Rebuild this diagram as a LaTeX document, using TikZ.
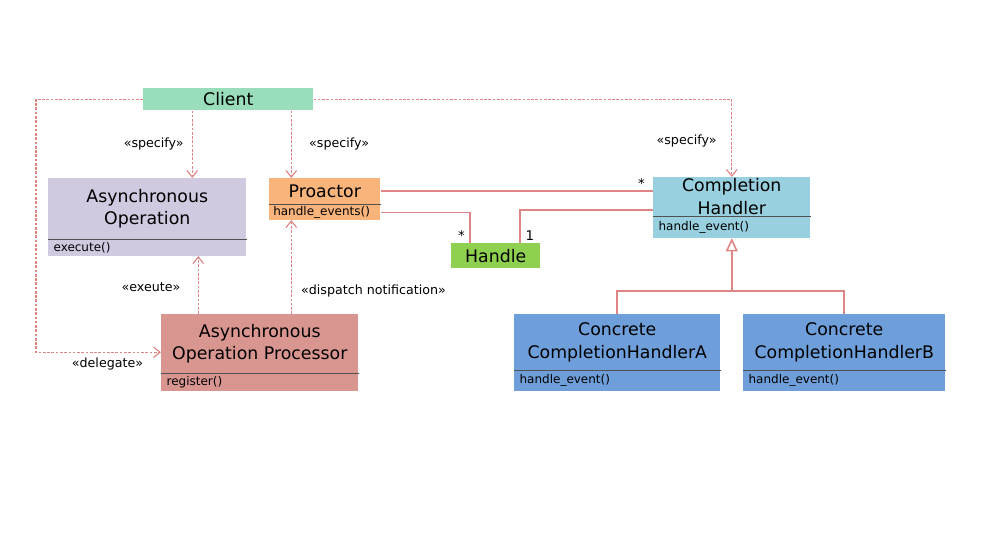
\documentclass[tikz,border=0pt]{standalone}
\usepackage{fontspec}
\setmainfont{DejaVu Sans}
\usetikzlibrary{positioning,arrows.meta}

\definecolor{clientgreen}{HTML}{99DDBB}
\definecolor{aopurple}{HTML}{D1C9DF}
\definecolor{proorange}{HTML}{F9B47C}
\definecolor{handlegreen}{HTML}{8ED151}
\definecolor{chblue}{HTML}{99D0DF}
\definecolor{aopred}{HTML}{D99691}
\definecolor{concblue}{HTML}{6F9FDB}
\definecolor{linered}{HTML}{E08585}
\definecolor{sepgray}{HTML}{505050}

\tikzset{
  cls/.style={fill=#1, inner sep=1pt, align=center,
    font=\fontsize{13}{17}\selectfont},
  meth/.style={fill=#1, inner sep=0pt},
  mlabel/.style={anchor=west, inner xsep=4pt, inner ysep=0pt,
    font=\fontsize{9}{10}\selectfont},
  sep/.style={draw=sepgray, line width=0.8pt},
  dep/.style={draw=linered, line width=0.85pt, dash pattern=on 2pt off 1.2pt,
    -{Straight Barb[length=5pt,width=8pt]}},
  assoc/.style={draw=linered, line width=1.2pt},
  gen/.style={assoc, -{Triangle[open, length=10pt, width=9pt, fill=white]}},
  stereo/.style={font=\fontsize{9.5}{11}\selectfont, inner sep=1pt, text=black},
  mult/.style={font=\fontsize{10}{11}\selectfont, inner sep=1.5pt, text=black},
}

\begin{document}
\begin{tikzpicture}[x=0.75pt, y=-0.75pt]
    \useasboundingbox (0,0) rectangle (981,537);

    % classes
    \node[cls=clientgreen, minimum width=127.5pt, minimum height=16.5pt, anchor=north west] (client) at (143,88) {Client};

    \node[cls=aopurple, minimum width=148.5pt, minimum height=45.75pt, anchor=north west] (ao) at (48,178) {Asynchronous\\Operation};
    \node[meth=aopurple, minimum width=148.5pt, minimum height=12pt, below=0pt of ao, label={[mlabel]west:execute()}] (ao-m) {};

    \node[cls=proorange, minimum width=83.25pt, minimum height=19.5pt, anchor=north west] (pr) at (269,178) {Proactor};
    \node[meth=proorange, minimum width=83.25pt, minimum height=11.25pt, below=0pt of pr, label={[mlabel, inner xsep=3pt]west:handle\_events()}] (pr-m) {};

    \node[cls=handlegreen, minimum width=66.75pt, minimum height=18.75pt, anchor=north west] (handle) at (451,243) {Handle};

    \node[cls=chblue, minimum width=117.75pt, minimum height=29.25pt, anchor=north west] (ch) at (653,177) {Completion\\Handler};
    \node[meth=chblue, minimum width=117.75pt, minimum height=15.75pt, below=0pt of ch, label={[mlabel]west:handle\_event()}] (ch-m) {};

    \node[cls=aopred, minimum width=147.75pt, minimum height=44.25pt, anchor=north west] (aop) at (161,314) {Asynchronous\\Operation Processor};
    \node[meth=aopred, minimum width=147.75pt, minimum height=12.75pt, below=0pt of aop, label={[mlabel]west:register()}] (aop-m) {};

    \node[cls=concblue, minimum width=154.5pt, minimum height=42pt, anchor=north west] (ccha) at (514,314) {Concrete\\CompletionHandlerA};
    \node[meth=concblue, minimum width=154.5pt, minimum height=15pt, below=0pt of ccha, label={[mlabel]west:handle\_event()}] (ccha-m) {};

    \node[cls=concblue, minimum width=151.5pt, minimum height=42pt, anchor=north west] (cchb) at (743,314) {Concrete\\CompletionHandlerB};
    \node[meth=concblue, minimum width=151.5pt, minimum height=15pt, below=0pt of cchb, label={[mlabel]west:handle\_event()}] (cchb-m) {};

    % compartment lines
    \draw[sep] (ao-m.north west) -- (ao-m.north east);
    \draw[sep] (pr-m.north west) -- (pr-m.north east);
    \draw[sep] (ch-m.north west) -- (ch-m.north east);
    \draw[sep] (aop-m.north west) -- (aop-m.north east);
    \draw[sep] (ccha-m.north west) -- (ccha-m.north east);
    \draw[sep] (cchb-m.north west) -- (cchb-m.north east);

    % attachment points
    \coordinate (ao-in) at ([xshift=33.75pt]ao.north);
    \coordinate (ao-out) at ([xshift=38.25pt]ao-m.south);
    \coordinate (pr-in) at ([xshift=-25.125pt]pr.north);
    \coordinate (pr-out) at ([xshift=-25.125pt]pr-m.south);
    \coordinate (aop-in) at ([yshift=-6.375pt]aop.west);
    \coordinate (h-left) at ([xshift=-19.125pt]handle.north);
    \coordinate (h-right) at ([xshift=18.375pt]handle.north);
    \coordinate (ch-out) at ([yshift=-10.125pt]ch.west);

    % dependencies
    \draw[dep] (client.south -| ao-in) -- node[stereo, left=5pt] {«specify»} (ao-in);
    \draw[dep] (client.south -| pr-in) -- node[stereo, right=12pt] {«specify»} (pr-in);
    \draw[dep] (client.east) -| node[stereo, pos=0.77, left=10pt] {«specify»} (ch.north);
    \draw[dep] (client.west) -- ++(-107,0) |- node[stereo, pos=1, below left=3pt and 12pt] {«delegate»} (aop-in);
    \draw[dep] (aop.north -| ao-out) -- node[stereo, pos=0.47, left=12pt] {«exeute»} (ao-out);
    \draw[dep] (aop.north -| pr-out) -- node[stereo, pos=0.24, right=6pt] {«dispatch notification»} (pr-out);

    % associations
    \draw[assoc] (pr.east) -- node[mult, pos=1, above left=0pt and 4pt] {*} (pr.east -| ch.west);
    \draw[assoc] (pr-m.east) -| node[mult, pos=1, above left=0pt and 2pt] {*} (h-left);
    \draw[assoc] (ch-out) -| node[mult, pos=1, above right=0pt and 2pt] {1} (h-right);

    % generalization
    \draw[assoc] (ccha.north) -- ++(0,-23) coordinate (bar) -| (cchb.north);
    \draw[gen] (bar -| ch-m.south) -- (ch-m.south);
\end{tikzpicture}
\end{document}
